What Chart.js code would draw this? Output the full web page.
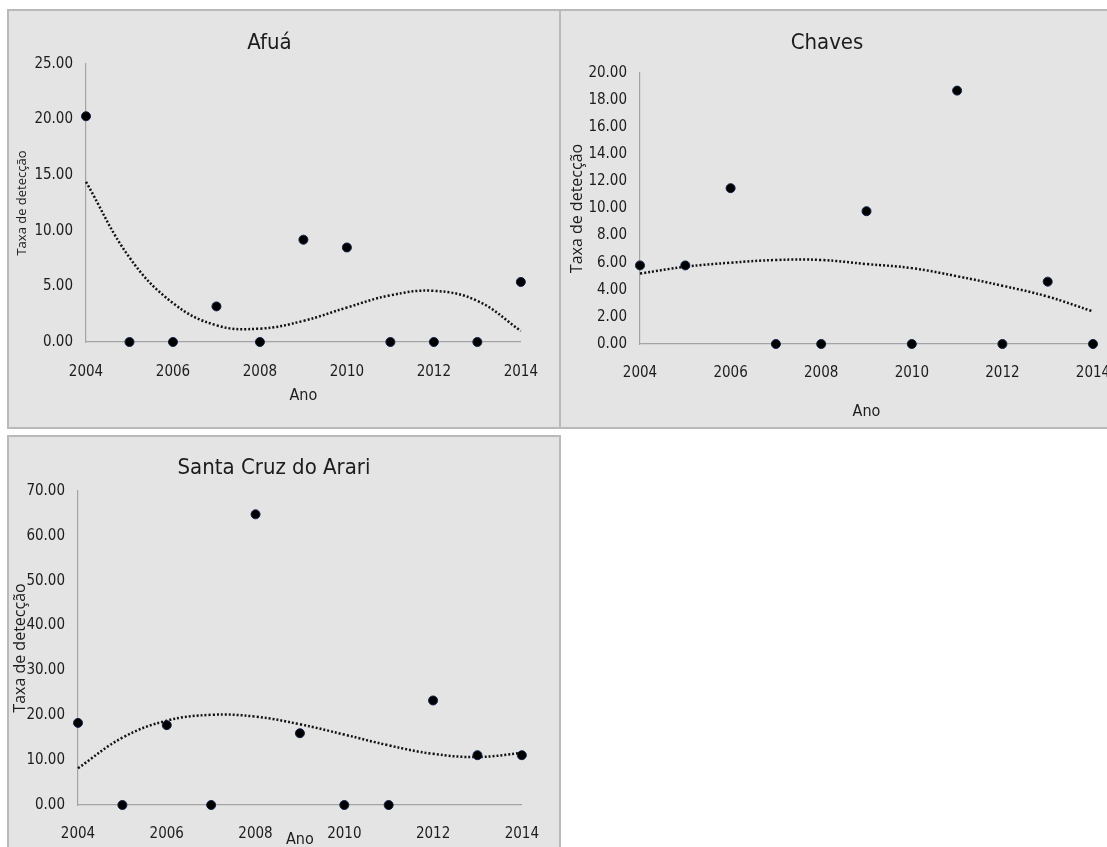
<!DOCTYPE html>
<html>
<head>
<meta charset="utf-8">
<title>Taxa de detecção</title>
<script src="https://cdn.jsdelivr.net/npm/chart.js@4.4.1/dist/chart.umd.min.js"></script>
<style>
    html, body { margin: 0; padding: 0; background: #fff; overflow: hidden; width: 1107px; height: 847px; }
    .panel { position: absolute; background: #e4e4e4; border: 2px solid #b9b9b9; box-sizing: border-box; }
    .panel canvas { position: absolute; left: 0; top: 0; }
</style>
</head>
<body>
<div class="panel" style="left:7px; top:9px; width:554px; height:420px;"><canvas id="afuaChart" width="550" height="416"></canvas></div>
<div class="panel" style="left:559px; top:9px; width:583px; height:420px;"><canvas id="chavesChart" width="579" height="416"></canvas></div>
<div class="panel" style="left:7px; top:435px; width:554px; height:430px;"><canvas id="santaCruzChart" width="550" height="426"></canvas></div>

<script>
// Data
const years = [2004, 2005, 2006, 2007, 2008, 2009, 2010, 2011, 2012, 2013, 2014];
const xTicks = [2004, 2006, 2008, 2010, 2012, 2014];

const afuaRates  = [20.3, 0, 0, 3.2, 0, 9.2, 8.5, 0, 0, 0, 5.4];
const afuaTrend  = [14.4, 7.6, 3.5, 1.5, 1.2, 1.9, 3.1, 4.2, 4.6, 3.7, 1.0];

const chavesRates = [5.8, 5.8, 11.5, 0, 0, 9.8, 0, 18.7, 0, 4.6, 0];
const chavesTrend = [5.2, 5.7, 6.0, 6.2, 6.2, 5.9, 5.6, 5.0, 4.3, 3.5, 2.4];

const santaCruzRates = [18.3, 0, 17.8, 0, 64.8, 16.0, 0, 0, 23.3, 11.1, 11.1];
const santaCruzTrend = [8.2, 15.0, 18.8, 20.1, 19.7, 18.0, 15.7, 13.3, 11.4, 10.7, 11.6];

const narrow = '"Liberation Sans Narrow", "DejaVu Sans Condensed", "Arial Narrow", sans-serif';
const textColor = '#1c1c1c';
const axisColor = '#a4a4a4';

function makeChart(canvasId, title, rates, trend, opts) {
    const canvas = document.getElementById(canvasId);
    const area = opts.area;
    const titleLh = 22 * 1.2;
    const yTitleLh = opts.yTitleSize * 1.2;
    const anoLh = 16 * 1.2;
    const xHeight = opts.anoY - area.bottom + anoLh / 2 + 2;

    return new Chart(canvas, {
        data: {
            datasets: [
                {
                    type: 'scatter',
                    data: years.map((yr, i) => ({ x: yr, y: rates[i] })),
                    backgroundColor: '#000',
                    borderColor: '#102048',
                    borderWidth: 1,
                    pointRadius: 4.5,
                    clip: false,
                    order: 1
                },
                {
                    type: 'line',
                    data: years.map((yr, i) => ({ x: yr, y: trend[i] })),
                    borderColor: '#111',
                    borderWidth: 2.5,
                    borderDash: [2, 2],
                    tension: 0.4,
                    pointRadius: 0,
                    fill: false,
                    clip: false,
                    order: 2
                }
            ]
        },
        options: {
            responsive: false,
            animation: false,
            layout: {
                padding: {
                    left: 0,
                    top: 0,
                    right: canvas.width - area.right,
                    bottom: canvas.height - area.bottom - xHeight
                }
            },
            plugins: {
                legend: { display: false },
                tooltip: { enabled: false },
                title: {
                    display: true,
                    text: title,
                    color: textColor,
                    font: { family: narrow, size: 22, weight: 'normal' },
                    padding: { top: opts.titleY - titleLh / 2, bottom: area.top - opts.titleY - titleLh / 2 }
                }
            },
            scales: {
                x: {
                    type: 'linear',
                    min: 2004,
                    max: 2014,
                    grid: { display: false, drawTicks: false },
                    border: { display: true, color: axisColor, width: 1.2 },
                    afterBuildTicks: s => { s.ticks = xTicks.map(v => ({ value: v })); },
                    ticks: {
                        color: textColor,
                        font: { family: narrow, size: 15 },
                        padding: opts.xTickCenter - area.bottom - 9,
                        maxRotation: 0,
                        callback: v => String(v)
                    },
                    title: {
                        display: true,
                        text: 'Ano',
                        color: textColor,
                        font: { family: narrow, size: 16 },
                        padding: { top: 0, bottom: 2 }
                    },
                    afterFit: s => { s.height = xHeight; }
                },
                y: {
                    min: 0,
                    max: opts.yMax,
                    grid: { display: false, drawTicks: false },
                    border: { display: true, color: axisColor, width: 1.2 },
                    ticks: {
                        stepSize: opts.yStep,
                        color: textColor,
                        font: { family: narrow, size: 15 },
                        padding: 13,
                        callback: v => v.toFixed(2)
                    },
                    title: {
                        display: true,
                        text: 'Taxa de detecção',
                        color: textColor,
                        font: { family: '"Open Sans", "DejaVu Sans", sans-serif', size: opts.yTitleSize },
                        padding: { top: opts.yTitleX - yTitleLh / 2, bottom: 0 }
                    },
                    afterFit: s => { s.width = area.left; }
                }
            }
        }
    });
}

makeChart('afuaChart', 'Afuá', afuaRates, afuaTrend, {
    area: { left: 77, top: 53, right: 521, bottom: 331 },
    yMax: 25, yStep: 5,
    titleY: 32, yTitleX: 13, yTitleSize: 13,
    xTickCenter: 361, anoY: 385
});

makeChart('chavesChart', 'Chaves', chavesRates, chavesTrend, {
    area: { left: 79, top: 62, right: 532, bottom: 333 },
    yMax: 20, yStep: 2,
    titleY: 32, yTitleX: 16, yTitleSize: 16,
    xTickCenter: 362, anoY: 401
});

makeChart('santaCruzChart', 'Santa Cruz do Arari', santaCruzRates, santaCruzTrend, {
    area: { left: 69, top: 54, right: 530, bottom: 368 },
    yMax: 70, yStep: 10,
    titleY: 31, yTitleX: 11, yTitleSize: 16,
    xTickCenter: 397, anoY: 403
});
</script>
</body>
</html>
